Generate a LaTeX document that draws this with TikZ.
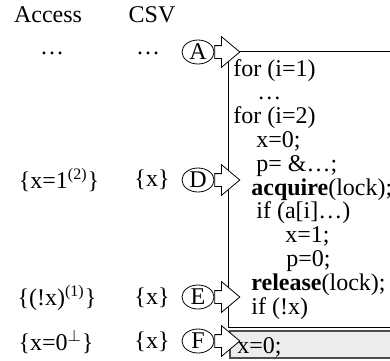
\documentclass[tikz,border=0pt]{standalone}
\usepackage{fontspec}
\setmainfont{Liberation Serif}
\usetikzlibrary{positioning,shapes.geometric,shapes.arrows}

\begin{document}
\begin{tikzpicture}[x=0.5pt,y=-0.5pt,every node/.style={font=\fontsize{12}{14}\selectfont},
  lbl/.style={draw,ellipse,minimum width=16pt,minimum height=12pt,inner sep=0pt},
  blk/.style={draw,fill=white,single arrow,inner xsep=0pt,inner ysep=3pt,minimum height=12.5pt,
    minimum width=15pt,single arrow head extend=4.5pt,single arrow tip angle=80}]
\useasboundingbox (0,0) rectangle (390,360);
% code frame
\draw[line width=0.5pt] (392,51) -- (228,51) -- (228,327) -- (392,327);
\draw[line width=0.6pt,draw=gray!60!black,fill=gray!15] (230,331) rectangle (394,358);
% columns
\node (acc) at (48,15) {Access};
\node (csv) at (152,15) {CSV};
\node (accA) at (52,53) {\ldots};
\node (csvA) at (148,53) {\ldots};
\node (accD) at (59,180) {\{x=1\textsuperscript{(2)}\}};
\node (csvD) at (152,180) {\{x\}};
\node (accE) at (57,298) {\{(!x)\textsuperscript{(1)}\}};
\node (csvE) at (152,298) {\{x\}};
\node (accF) at (56,342) {\{x=0$^{\perp}$\}};
\node (csvF) at (152,342) {\{x\}};
% program points
\node[lbl] (A) at (198,52) {A};
\node[lbl] (D) at (198,180) {D};
\node[lbl] (E) at (198,297) {E};
\node[lbl] (F) at (198,341) {F};
\node[blk,right=0pt of A] (arrA) {};
\node[blk,right=0pt of D] (arrD) {};
\node[blk,right=0pt of E] (arrE) {};
\node[blk,right=0pt of F] (arrF) {};
% code
\foreach \dx/\txt [count=\k] in {0/for (i=1), 24/\ldots, 0/for (i=2), 23/x=0;, 23/p= \&\ldots;,
    18/\textbf{acquire}(lock);, 23/if (a[i]\ldots), 52/x=1;, 53/p=0;, 18/\textbf{release}(lock);, 18/if (!x)}
  \node[anchor=base west,inner sep=0pt] (code\k) at (233+\dx,52.2+23.8*\k) {\txt};
\node[anchor=base west,inner sep=0pt] (tail) at (237,353) {x=0;};
\end{tikzpicture}
\end{document}
